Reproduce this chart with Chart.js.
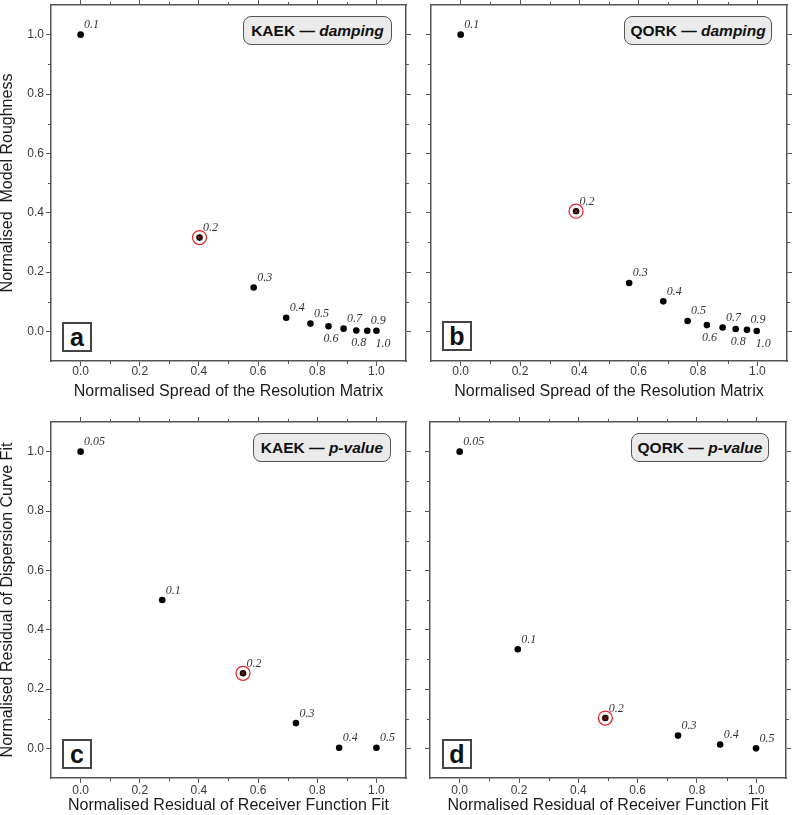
<!DOCTYPE html>
<html><head><meta charset="utf-8">
<script src="https://cdn.jsdelivr.net/npm/chart.js@4.4.1/dist/chart.umd.min.js"></script>
<style>
body{margin:0;background:#fff;width:792px;height:815px;position:relative;overflow:hidden;font-family:"Liberation Sans",Arial,sans-serif;}
canvas{position:absolute;}
.ttl{position:absolute;box-sizing:border-box;border:1.5px solid #555;border-radius:8px;background:#ebebeb;font-weight:bold;font-size:15.5px;color:#111;display:flex;align-items:center;justify-content:center;height:29px;white-space:pre;}
.let{position:absolute;box-sizing:border-box;border:2px solid #444;background:#fff;font-weight:bold;font-size:25px;color:#111;display:flex;align-items:center;justify-content:center;width:30px;height:30px;}
</style></head>
<body>
<canvas id="ca" width="418" height="405" style="left:0;top:0"></canvas>
<canvas id="cb" width="374" height="405" style="left:418px;top:0"></canvas>
<canvas id="cc" width="418" height="405" style="left:0;top:410px"></canvas>
<canvas id="cd" width="374" height="405" style="left:418px;top:410px"></canvas>
<div class="ttl" style="left:243px;top:16px;width:149px">KAEK — <i>damping</i></div>
<div class="ttl" style="left:624px;top:16px;width:148px">QORK — <i>damping</i></div>
<div class="ttl" style="left:253px;top:433px;width:138px">KAEK — <i>p-value</i></div>
<div class="ttl" style="left:631px;top:433px;width:138px">QORK — <i>p-value</i></div>
<div class="let" style="left:62px;top:322px">a</div>
<div class="let" style="left:442px;top:321px">b</div>
<div class="let" style="left:62px;top:739px">c</div>
<div class="let" style="left:442px;top:739px">d</div>
<script>
// ---- data ----
const dampingLabels = ['0.1','0.2','0.3','0.4','0.5','0.6','0.7','0.8','0.9','1.0'];
const kaekSpread    = [0.000,0.402,0.585,0.695,0.777,0.838,0.889,0.932,0.969,1.000];
const kaekRoughness = [1.000,0.316,0.148,0.046,0.026,0.017,0.009,0.003,0.002,0.002];
const qorkSpread    = [0.000,0.389,0.568,0.683,0.765,0.830,0.883,0.927,0.965,0.998];
const qorkRoughness = [1.000,0.405,0.163,0.101,0.035,0.021,0.013,0.008,0.005,0.001];
const pvalueLabels     = ['0.05','0.1','0.2','0.3','0.4','0.5'];
const kaekRfResidual   = [0.000,0.276,0.549,0.728,0.874,1.000];
const kaekDispResidual = [1.000,0.500,0.253,0.085,0.002,0.002];
const qorkRfResidual   = [0.000,0.196,0.491,0.736,0.878,0.999];
const qorkDispResidual = [1.000,0.334,0.102,0.043,0.013,0.000];
const preferredDamping = '0.2';
const preferredPvalue  = '0.2';
const tickValues      = [0.0,0.2,0.4,0.6,0.8,1.0];
const minorTickValues = [0.1,0.3,0.5,0.7,0.9];
const xTitleDamping = 'Normalised Spread of the Resolution Matrix';
const yTitleDamping = 'Normalised  Model Roughness';
const xTitlePvalue  = 'Normalised Residual of Receiver Function Fit';
const yTitlePvalue  = 'Normalised Residual of Dispersion Curve Fit';

const FRAME = '#555';
const pointLabelPlugin = {
  id:'pointLabels',
  afterDatasetsDraw(chart, args, opts){
    const meta = chart.getDatasetMeta(0);
    const ctx = chart.ctx;
    ctx.save();
    ctx.font = 'italic 12px "Liberation Serif", "DejaVu Serif", serif';
    ctx.fillStyle = '#333';
    ctx.textAlign = 'left';
    ctx.textBaseline = 'alphabetic';
    opts.labels.forEach((t,i)=>{
      const el = meta.data[i];
      const below = opts.below && Object.prototype.hasOwnProperty.call(opts.below, t);
      const dx = below ? opts.below[t] : 3.5;
      const dy = below ? 16 : -6.5;
      ctx.fillText(t, el.x + dx, el.y + dy);
    });
    ctx.restore();
  }
};
const minorTickPlugin = {
  id:'minorTicks',
  afterDraw(chart){
    const ctx = chart.ctx, a = chart.chartArea;
    ctx.save(); ctx.strokeStyle = FRAME; ctx.lineWidth = 1;
    const L = 3;
    for (const id of ['x','x2','y','y2']){
      const s = chart.scales[id];
      minorTickValues.forEach(v=>{
        const p = Math.round(s.getPixelForValue(v)) + 0.5;
        ctx.beginPath();
        if (id==='x'){ctx.moveTo(p,a.bottom);ctx.lineTo(p,a.bottom+L);}
        if (id==='x2'){ctx.moveTo(p,a.top);ctx.lineTo(p,a.top-L);}
        if (id==='y'){ctx.moveTo(a.left,p);ctx.lineTo(a.left-L,p);}
        if (id==='y2'){ctx.moveTo(a.right,p);ctx.lineTo(a.right+L,p);}
        ctx.stroke();
      });
    }
    ctx.restore();
  }
};

function scales(o){
  const common = () => ({
    type:'linear', min:-0.1, max:1.1,
    afterBuildTicks: s => { s.ticks = tickValues.map(v=>({value:v})); },
    grid:{drawOnChartArea:false, drawTicks:true, tickLength:5, color:FRAME, lineWidth:1},
    border:{display:true, color:FRAME, width:1.5}
  });
  const noPad = s => { s.paddingTop = 0; s.paddingBottom = 0; s.paddingLeft = 0; s.paddingRight = 0; };
  const tickFont = {family:'"Liberation Sans", Arial, sans-serif', size:12, lineHeight:1};
  const titleFont = {family:'"Liberation Sans", Arial, sans-serif', size:16, lineHeight:1};
  return {
    x: Object.assign(common(), {position:'bottom',
      ticks:{display:true, font:tickFont, color:'#383838', padding:o.xTickPad, maxRotation:0, autoSkip:false, callback:v=>Number(v).toFixed(1)},
      title:{display:true, text:o.xTitle, font:titleFont, color:'#1a1a1a', padding:{top:0,bottom:o.xTitlePad}},
      afterFit: s=>{ s.height = o.bottomH; noPad(s); }}),
    x2: Object.assign(common(), {position:'top', ticks:{display:false}, afterFit: s=>{ s.height = o.topH; noPad(s); }}),
    y: Object.assign(common(), {position:'left',
      ticks:{display:o.yLabels, font:tickFont, color:'#383838', padding:2, autoSkip:false, callback:v=>Number(v).toFixed(1)},
      title:{display:!!o.yTitle, text:o.yTitle||'', font:titleFont, color:'#1a1a1a', padding:{top:0,bottom:0}},
      afterFit: s=>{ s.width = o.leftW; noPad(s); }}),
    y2: Object.assign(common(), {position:'right', ticks:{display:false}, afterFit: s=>{ s.width = o.rightW; noPad(s); }})
  };
}

function panel(id, xs, ys, labels, preferred, below, o){
  const pts = xs.map((x,i)=>({x:x, y:ys[i]}));
  const k = labels.indexOf(preferred);
  new Chart(document.getElementById(id), {
    type:'scatter',
    data:{datasets:[
      {label:'main', data:pts, pointRadius:3.3, pointBackgroundColor:'#000', pointBorderWidth:0, order:2},
      {label:'ring', data:[pts[k]], pointRadius:7, pointBackgroundColor:'rgba(0,0,0,0)', pointBorderColor:'#e8262b', pointBorderWidth:1.3, order:1},
      {label:'cross', data:[pts[k]], pointStyle:'crossRot', pointRadius:3, pointBorderColor:'#d02020', pointBorderWidth:0.8, order:0}
    ]},
    options:{
      responsive:false, animation:false, devicePixelRatio:1,
      layout:{padding:0, autoPadding:false},
      plugins:{legend:{display:false}, tooltip:{enabled:false}, pointLabels:{labels:labels, below:below}},
      scales: scales(o)
    },
    plugins:[pointLabelPlugin, minorTickPlugin]
  });
}

const belowDamping = {'0.6':-5, '0.8':-5, '1.0':-1};
panel('ca', kaekSpread, kaekRoughness, dampingLabels, preferredDamping, belowDamping,
  {xTitle:xTitleDamping, yTitle:yTitleDamping, yLabels:true, leftW:51, rightW:12, topH:5, bottomH:44, xTickPad:0, xTitlePad:5});
panel('cb', qorkSpread, qorkRoughness, dampingLabels, preferredDamping, belowDamping,
  {xTitle:xTitleDamping, yTitle:null, yLabels:false, leftW:13, rightW:5, topH:5, bottomH:44, xTickPad:0, xTitlePad:5});
panel('cc', kaekRfResidual, kaekDispResidual, pvalueLabels, preferredPvalue, null,
  {xTitle:xTitlePvalue, yTitle:yTitlePvalue, yLabels:true, leftW:51, rightW:12, topH:12, bottomH:37, xTickPad:2, xTitlePad:1.5});
panel('cd', qorkRfResidual, qorkDispResidual, pvalueLabels, preferredPvalue, null,
  {xTitle:xTitlePvalue, yTitle:null, yLabels:false, leftW:12, rightW:6, topH:12, bottomH:37, xTickPad:2, xTitlePad:1.5});
</script>
</body></html>
